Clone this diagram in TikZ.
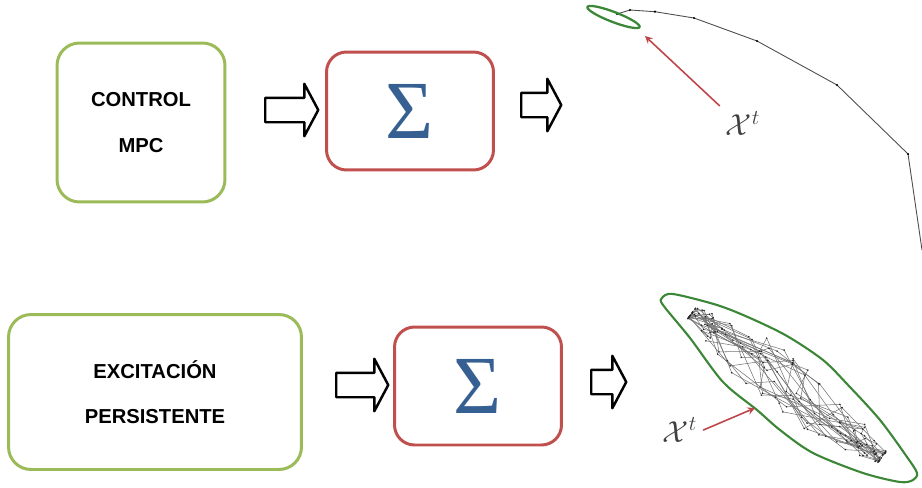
\documentclass[tikz,border=0pt]{standalone}
\usepackage{fontspec}
\setmainfont{Liberation Sans}
\newfontfamily\sigmafont{Liberation Serif}
\usetikzlibrary{shapes.arrows}

\definecolor{boxgreen}{RGB}{155,187,89}
\definecolor{boxred}{RGB}{192,80,77}
\definecolor{sigblue}{RGB}{54,96,146}
\definecolor{setgreen}{RGB}{60,135,55}
\definecolor{ptred}{RGB}{190,70,75}

\begin{document}
\begin{tikzpicture}[x=0.02cm,y=-0.02cm,
	line cap=round,line join=round,
	inbox/.style={draw=boxgreen,line width=1.7pt,rounded corners=0.45cm,align=center,
		font=\fontsize{11.5}{26}\selectfont\bfseries},
	sysbox/.style={draw=boxred,line width=1.7pt,rounded corners=0.4cm,
		minimum width=3.34cm,minimum height=2.36cm,text=sigblue,
		font=\sigmafont\fontsize{47}{47}\selectfont},
	hollow/.style={single arrow,draw=black,line width=1.4pt,inner xsep=0pt,inner ysep=0.22cm,
		single arrow head extend=0.28cm,single arrow tip angle=124},
	pointer/.style={ptred,line width=0.9pt,-stealth},
	setlbl/.style={text=black!75,font=\fontsize{18}{18}\selectfont}]

	\useasboundingbox (0,0) rectangle (922,487);

	% MPC branch
	\node[inbox,minimum width=3.36cm,minimum height=3.18cm] (mpc) at (141,122.5) {CONTROL\\MPC};
	\node[hollow,minimum height=1.06cm] (arr1) at (288.5,110) {};
	\node[sysbox] (sys1) at (410,111) {Σ};
	\node[hollow,minimum height=0.8cm] (arr2) at (538,105) {};

	% excitation branch
	\node[inbox,minimum width=5.86cm,minimum height=3.1cm] (pe) at (155,392) {EXCITACIÓN\\PERSISTENTE};
	\node[hollow,minimum height=1.04cm] (arr3) at (359,385) {};
	\node[sysbox] (sys2) at (478,386) {Σ};
	\node[hollow,minimum height=0.7cm] (arr4) at (605.5,382) {};

	% closed-loop trajectory
	\draw[black!70,line width=0.5pt] (617,14) -- (630,10) -- (655,11.7) -- (694,18)
		-- (757,41) -- (837,85) -- (908,154) -- (922,250);
	\foreach \p in {(617,14),(630,10),(655,11.7),(694,18),(757,41),(837,85),(908,154)}
		\fill \p circle (0.7pt);
	\draw[setgreen,line width=1.3pt,rotate around={-21:(613.5,17)}]
		(613.5,17) ellipse [x radius=0.56cm,y radius=0.1cm];
	\coordinate (tgt1) at (645,36);
	\node[setlbl] (lbl1) at (743,124) {$\mathcal{X}^t$};
	\draw[pointer] (lbl1.north west) -- (tgt1);

	% excited trajectory
	\pgfmathsetseed{4}
	\foreach \i in {1,...,170}{
		\pgfmathsetmacro\nxt{min(1,max(0,0.5-0.5*cos(\i*23)+0.25*(rnd-0.5)))}
		\pgfmathsetmacro\off{(rnd-0.5)*(14+44*sin(180*\nxt))}
		\coordinate (w\i) at ({692+190*\nxt-0.6*(\off)},{313+144*\nxt+0.8*(\off)});
	}
	\foreach \i [remember=\i as \j (initially 1)] in {2,...,170}
		\draw[black!55,line width=0.3pt] (w\j) -- (w\i);
	\foreach \i in {1,...,170}
		\fill[black!85] (w\i) circle (0.5pt);

	% invariant set
	\draw[setgreen,line width=1.2pt] plot[smooth cycle,tension=0.5] coordinates {
		(662,298) (673,294) (717,305) (750,318) (787,336) (823,360) (848,385)
		(880,420) (907,457) (917,473) (913,480) (900,482) (863,473) (813,453)
		(780,430) (757,410) (723,382) (690,338) (663,305)};
	\coordinate (tgt2) at (755,408);
	\node[setlbl] (lbl2) at (680,430) {$\mathcal{X}^t$};
	\draw[pointer] (lbl2.east) -- (tgt2);
\end{tikzpicture}
\end{document}
